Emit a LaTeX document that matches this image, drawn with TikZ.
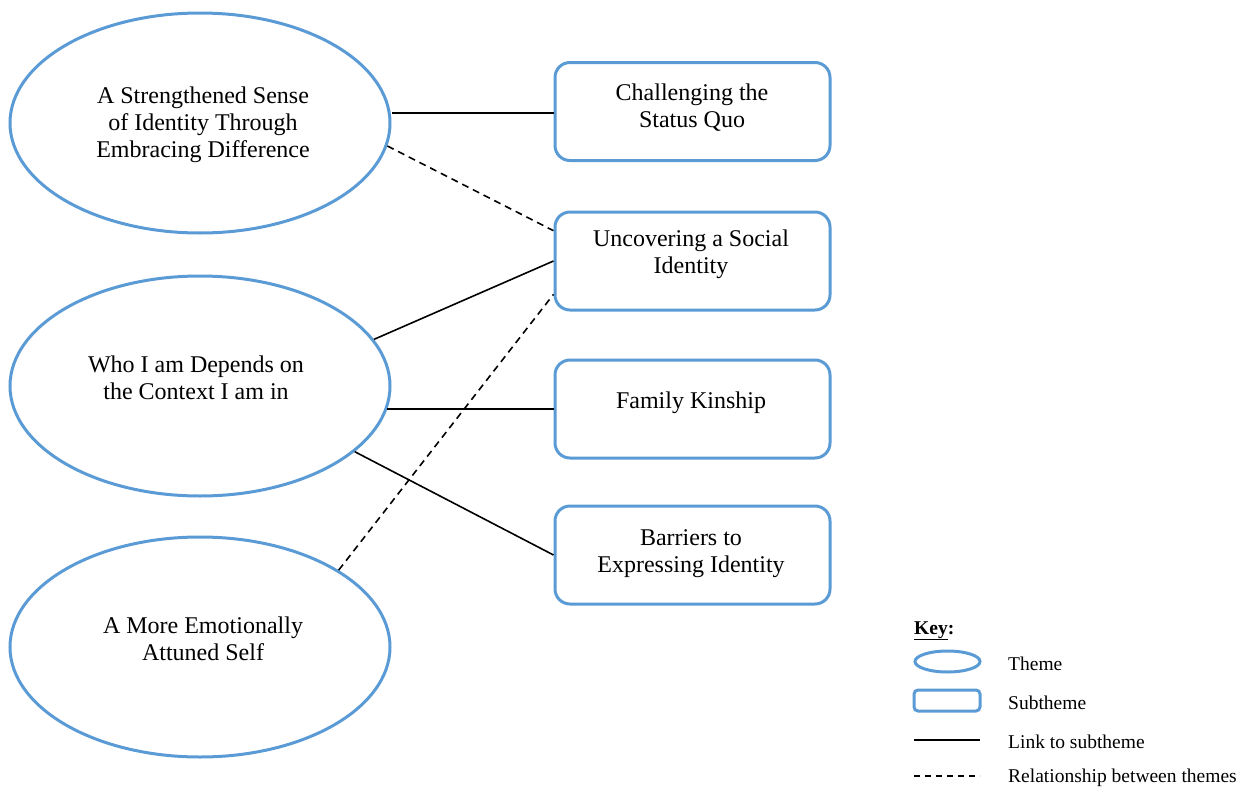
\documentclass[tikz,border=0pt]{standalone}
\usepackage{fontspec}
\setmainfont{Liberation Serif}
\usetikzlibrary{shapes.geometric,calc}
\definecolor{themeblue}{HTML}{5B9BD5}
\tikzset{
  theme/.style={ellipse,draw=themeblue,line width=3pt,minimum width=380pt,minimum height=220pt,inner sep=0pt},
  subtheme/.style={rectangle,rounded corners=15pt,draw=themeblue,line width=3pt,minimum width=275pt,minimum height=98pt,inner sep=0pt},
  lbl/.style={align=center,font=\fontsize{24pt}{27pt}\selectfont,inner sep=0pt},
  keytxt/.style={anchor=west,font=\fontsize{19.5pt}{22pt}\selectfont,inner sep=0pt},
  link/.style={draw=black,line width=1.6pt},
  relation/.style={draw=black,line width=1.6pt,dash pattern=on 7pt off 5pt}
}
\begin{document}
\begin{tikzpicture}[x=1pt,y=-1pt]
\useasboundingbox (0,0) rectangle (1248,787);

% themes
\node[theme] (e1) at (200,123) {};
\node[theme] (e2) at (200,386) {};
\node[theme] (e3) at (200,647) {};
\node[lbl] (e1t) at (203,124.5) {A Strengthened Sense\\of Identity Through\\Embracing Difference};
\node[lbl] (e2t) at (196,377.5) {Who I am Depends on\\the Context I am in};
\node[lbl] (e3t) at (203,639) {A More Emotionally\\Attuned Self};

% subthemes
\node[subtheme] (b1) at (692.5,111.5) {};
\node[subtheme] (b2) at (692.5,261) {};
\node[subtheme] (b3) at (692.5,409) {};
\node[subtheme] (b4) at (692.5,555) {};
\node[lbl] (b1t) at (692,107.5) {Challenging the\\Status Quo};
\node[lbl] (b2t) at (691,254.5) {Uncovering a Social\\Identity};
\node[lbl] (b3t) at (691,402.5) {Family Kinship};
\node[lbl] (b4t) at (691,553.5) {Barriers to\\Expressing Identity};

% links to subthemes
\draw[link] (b1.west |- 0,113) coordinate (b1in) -- (e1.east |- b1in);
\draw[link] (e2.15) -- ($(b2.north west)!0.5!(b2.south west)$);
\draw[link] (e2.-7) -- (e2.-7 -| b3.west);
\draw[link] (e2.-23) -- (b4.west);

% relationships between themes
\draw[relation] (e1.-7) -- ($(b2.north west)!0.2!(b2.south west)$);
\draw[relation] (e3.29) -- ($(b2.north west)!0.83!(b2.south west)$);

% key
\node[anchor=base west,inner sep=0pt,font=\fontsize{19.5pt}{22pt}\selectfont\bfseries] (keyt) at (914,634) {\underline{Key}:};
\node[ellipse,draw=themeblue,line width=3pt,minimum width=65pt,minimum height=21pt,inner sep=0pt] (ke) at (947.5,661.5) {};
\node[rectangle,rounded corners=4pt,draw=themeblue,line width=3pt,minimum width=66pt,minimum height=21pt,inner sep=0pt] (kr) at (947,700.5) {};
\coordinate (kl1) at (914,740);
\coordinate (kl2) at (980,740);
\coordinate (kd1) at (914,776);
\coordinate (kd2) at (980,776);
\draw[link] (kl1) -- (kl2);
\draw[relation,dash pattern=on 6pt off 5pt] (kd1) -- (kd2);
\node[keytxt] (k1) at (1008,664) {Theme};
\node[keytxt] (k2) at (1008,703) {Subtheme};
\node[keytxt] (k3) at (1008,742) {Link to subtheme};
\node[keytxt] (k4) at (1008,778) {Relationship between themes};
\end{tikzpicture}
\end{document}
